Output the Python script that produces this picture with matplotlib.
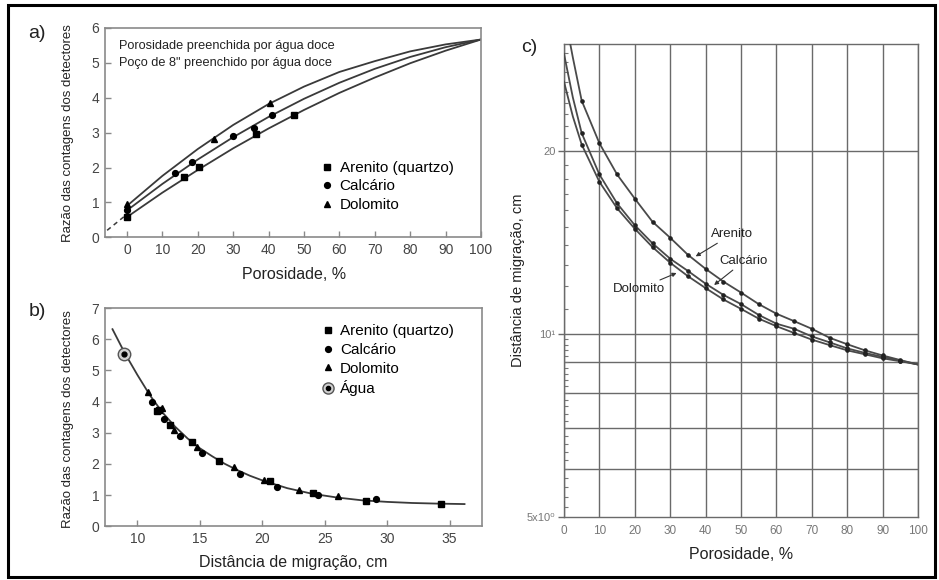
import numpy as np
import matplotlib
matplotlib.use('Agg')
import matplotlib.pyplot as plt
from matplotlib.lines import Line2D
from matplotlib.patches import Rectangle
from matplotlib.legend_handler import HandlerTuple
import matplotlib.ticker as mticker

plt.rcParams['font.family'] = ['Liberation Sans', 'DejaVu Sans']

# ---------------- Panel a data ----------------
a_curve_x = [0, 10, 20, 30, 40, 50, 60, 70, 80, 90, 100]
a_arenito_curve = [0.58, 1.28, 1.93, 2.55, 3.12, 3.65, 4.14, 4.58, 4.99, 5.35, 5.67]
a_calcario_curve = [0.77, 1.53, 2.23, 2.87, 3.45, 3.97, 4.43, 4.83, 5.17, 5.45, 5.67]
a_dolomito_curve = [0.90, 1.76, 2.53, 3.22, 3.82, 4.32, 4.74, 5.05, 5.33, 5.53, 5.67]
a_dash_x = [-5.6, 0.0]
a_dash_y = [0.20, 0.66]
a_arenito_x = [0, 16.0, 20.4, 36.4, 47.3]
a_arenito_y = [0.59, 1.72, 2.01, 2.97, 3.51]
a_calcario_x = [0, 13.6, 18.5, 29.9, 35.8, 41.1]
a_calcario_y = [0.79, 1.85, 2.16, 2.90, 3.14, 3.51]
a_dolomito_x = [0, 24.5, 40.3]
a_dolomito_y = [0.95, 2.83, 3.84]

# ---------------- Panel b data ----------------
b_curve_x = [8.0, 9.0, 10.0, 11.0, 12.0, 13.0, 14.0, 15.0, 16.0, 17.0, 18.0, 19.0,
             20.0, 22.0, 24.0, 26.0, 28.0, 30.0, 32.0, 34.0, 36.2]
b_curve_y = [6.32, 5.54, 4.85, 4.20, 3.65, 3.20, 2.82, 2.50, 2.24, 2.00, 1.80, 1.62,
             1.47, 1.22, 1.04, 0.92, 0.83, 0.78, 0.745, 0.725, 0.71]
b_arenito_x = [11.55, 11.75, 12.6, 14.4, 16.56, 20.6, 24.1, 28.3, 34.35]
b_arenito_y = [3.70, 3.72, 3.24, 2.71, 2.10, 1.45, 1.07, 0.82, 0.70]
b_calcario_x = [11.15, 12.14, 13.4, 15.2, 18.24, 21.15, 24.5, 29.1]
b_calcario_y = [3.97, 3.43, 2.90, 2.34, 1.66, 1.27, 1.00, 0.86]
b_dolomito_x = [10.88, 11.95, 12.96, 14.8, 17.7, 20.14, 22.94, 26.1]
b_dolomito_y = [4.29, 3.80, 3.08, 2.55, 1.91, 1.48, 1.16, 0.97]
b_agua_x = [8.96]
b_agua_y = [5.54]

# ---------------- Panel c data ----------------
c_por = [0, 2.5, 5, 10, 15, 20, 25, 30, 35, 40, 45, 50, 55, 60, 65, 70, 75, 80, 85, 90, 95, 100]
c_arenito = [34.0, 28.5, 24.2, 20.6, 18.3, 16.7, 15.3, 14.4, 13.5, 12.8, 12.2, 11.7,
             11.2, 10.8, 10.5, 10.2, 9.86, 9.62, 9.40, 9.22, 9.06, 8.91]
c_calcario = [28.9, 24.5, 21.4, 18.3, 16.4, 15.1, 14.1, 13.3, 12.7, 12.1, 11.6, 11.2,
              10.75, 10.4, 10.2, 9.91, 9.69, 9.47, 9.31, 9.17, 9.04, 8.91]
c_dolomito = [26.0, 22.8, 20.5, 17.8, 16.1, 14.9, 13.9, 13.1, 12.45, 11.9, 11.4, 11.0,
              10.6, 10.3, 10.04, 9.79, 9.59, 9.40, 9.26, 9.12, 9.02, 8.91]
c_hgrid = [6, 7, 8, 9, 10, 20]
c_yticks = [5, 10, 20]
c_yticklabels = ['5x10\u2070', '10\u00b9', '20']
c_xticks = [0, 10, 20, 30, 40, 50, 60, 70, 80, 90, 100]

LINE = '#3a3a3a'
SPINE = '#8a8a8a'

fig = plt.figure(figsize=(9.39, 5.80), dpi=100)
W, H = 939.0, 580.0

def axes_px(l, t, r, b):
    return fig.add_axes([l / W, 1 - b / H, (r - l) / W, (b - t) / H])

# outer frame
fig.patches.append(Rectangle((8 / W, 3 / H), (935 - 8) / W, (575 - 3) / H,
                             transform=fig.transFigure, fill=False,
                             edgecolor='black', linewidth=2.2))

def style_ab(ax):
    for s in ax.spines.values():
        s.set_color(SPINE)
        s.set_linewidth(1.2)
    ax.tick_params(direction='in', length=4, width=1.0, color=SPINE,
                   labelsize=10, labelcolor='#444444', pad=4)

# ---------------- Panel a ----------------
axa = axes_px(105, 28, 481, 237.3)
axa.plot(a_curve_x, a_arenito_curve, color=LINE, lw=1.3)
axa.plot(a_curve_x, a_calcario_curve, color=LINE, lw=1.3)
axa.plot(a_curve_x, a_dolomito_curve, color=LINE, lw=1.3)
axa.plot(a_dash_x, a_dash_y, color=LINE, lw=1.1, ls=(0, (3, 2.5)))
axa.plot(a_arenito_x, a_arenito_y, 's', color='black', ms=5, zorder=3)
axa.plot(a_calcario_x, a_calcario_y, 'o', color='black', ms=4.2, zorder=3)
axa.plot(a_dolomito_x, a_dolomito_y, '^', color='black', ms=5, zorder=3)
axa.set_xlim(-6.2, 100)
axa.set_ylim(0, 6)
axa.set_xticks(range(0, 101, 10))
axa.set_yticks(range(0, 7))
style_ab(axa)
axa.set_xlabel('Porosidade, %', fontsize=11.5, color='#222222')
axa.xaxis.set_label_coords(0.504, -0.14)
axa.set_ylabel('Razão das contagens dos detectores', fontsize=9.5, color='#222222')
axa.yaxis.set_label_coords(-0.082, 0.5)
axa.text(0.037, 0.914, 'Porosidade preenchida por água doce', transform=axa.transAxes,
         fontsize=9.2, va='center', ha='left', color='#222222')
axa.text(0.037, 0.833, 'Poço de 8" preenchido por água doce', transform=axa.transAxes,
         fontsize=9.2, va='center', ha='left', color='#222222')
ha = [Line2D([], [], ls='none', marker='s', color='black', ms=5),
      Line2D([], [], ls='none', marker='o', color='black', ms=4.2),
      Line2D([], [], ls='none', marker='^', color='black', ms=5)]
axa.legend(ha, ['Arenito (quartzo)', 'Calcário', 'Dolomito'], loc='upper left',
           bbox_to_anchor=(0.575, 0.365), frameon=False, fontsize=11,
           handlelength=0.8, handletextpad=0.4, labelspacing=0.3, borderpad=0,
           borderaxespad=0)

# ---------------- Panel b ----------------
axb = axes_px(105, 308, 482, 526.2)
axb.plot(b_curve_x, b_curve_y, color=LINE, lw=1.3)
axb.plot(b_arenito_x, b_arenito_y, 's', color='black', ms=5, zorder=3)
axb.plot(b_calcario_x, b_calcario_y, 'o', color='black', ms=4.2, zorder=3)
axb.plot(b_dolomito_x, b_dolomito_y, '^', color='black', ms=5, zorder=3)
axb.plot(b_agua_x, b_agua_y, 'o', mfc='#d0d0d0', mec='#555555', mew=1.0, ms=9, zorder=3)
axb.plot(b_agua_x, b_agua_y, 'o', color='black', ms=3.5, zorder=4)
axb.set_xlim(7.4, 37.6)
axb.set_ylim(0, 7)
axb.set_xticks([10, 15, 20, 25, 30, 35])
axb.set_yticks(range(0, 8))
style_ab(axb)
axb.set_xlabel('Distância de migração, cm', fontsize=11.5, color='#222222')
axb.xaxis.set_label_coords(0.5, -0.13)
axb.set_ylabel('Razão das contagens dos detectores', fontsize=9.5, color='#222222')
axb.yaxis.set_label_coords(-0.082, 0.49)
agua_ring = Line2D([], [], ls='none', marker='o', mfc='#d0d0d0', mec='#555555', ms=8)
agua_dot = Line2D([], [], ls='none', marker='o', color='black', ms=3)
hb = [Line2D([], [], ls='none', marker='s', color='black', ms=5),
      Line2D([], [], ls='none', marker='o', color='black', ms=4.2),
      Line2D([], [], ls='none', marker='^', color='black', ms=5),
      (agua_ring, agua_dot)]
axb.legend(hb, ['Arenito (quartzo)', 'Calcário', 'Dolomito', 'Água'], loc='upper left',
           bbox_to_anchor=(0.575, 0.925), frameon=False, fontsize=11,
           handlelength=0.8, handletextpad=0.4, labelspacing=0.3, borderpad=0,
           borderaxespad=0, handler_map={tuple: HandlerTuple(ndivide=1, pad=0)})

# ---------------- Panel c ----------------
axc = axes_px(564, 44, 918, 517)
axc.set_yscale('log')
axc.set_xlim(0, 100)
axc.set_ylim(5, 30)
for v in c_hgrid:
    axc.axhline(v, color='#6a6a6a', lw=1.0, zorder=1)
axc.set_xticks(c_xticks)
axc.grid(axis='x', color='#6a6a6a', lw=1.0, zorder=1)
axc.set_yticks(c_yticks)
axc.set_yticklabels(c_yticklabels)
minor_vals = [v / 10 for v in range(52, 100, 2)] + list(range(11, 20)) + list(range(21, 30))
axc.yaxis.set_minor_locator(mticker.FixedLocator(minor_vals))
axc.yaxis.set_minor_formatter(mticker.NullFormatter())
axc.tick_params(axis='y', which='minor', direction='in', length=3, width=0.8, color='#777777')
axc.tick_params(axis='y', which='major', direction='out', length=4, width=1.0, color='#6a6a6a',
                labelsize=8, labelcolor='#777777', pad=2)
axc.tick_params(axis='x', which='major', length=0, labelsize=8.5, labelcolor='#777777', pad=6)
for s in axc.spines.values():
    s.set_color('#6a6a6a')
    s.set_linewidth(1.0)

por = np.array(c_por)
mk = (por % 5 == 0) & (por > 0) & (por < 100)
for series in (c_arenito, c_calcario, c_dolomito):
    arr = np.array(series)
    axc.plot(por, arr, color='#4a4a4a', lw=1.3, zorder=3)
    axc.plot(por[mk], arr[mk], 'o', color='#222222', ms=2.3, zorder=4)

arrow = dict(arrowstyle='-|>', color='#333333', lw=0.8, mutation_scale=6, shrinkA=0, shrinkB=0)
axc.annotate('Arenito', xy=(37.2, 13.42), xytext=(47.4, 14.58), fontsize=9.5, ha='center',
             va='center', arrowprops=arrow, color='#222222', zorder=5)
axc.annotate('Calcário', xy=(42.4, 12.04), xytext=(50.8, 13.17), fontsize=9.5, ha='center',
             va='center', arrowprops=arrow, color='#222222', zorder=5)
axc.annotate('Dolomito', xy=(31.8, 12.6), xytext=(21.2, 11.87), fontsize=9.5, ha='center',
             va='center', arrowprops=arrow, color='#222222', zorder=5)
axc.set_xlabel('Porosidade, %', fontsize=11.5, color='#222222')
axc.xaxis.set_label_coords(0.5, -0.063)
axc.set_ylabel('Distância de migração, cm', fontsize=10.5, color='#222222')
axc.yaxis.set_label_coords(-0.11, 0.5)

# panel labels
fig.text(37 / W, 1 - 33 / H, 'a)', fontsize=14, ha='center', va='center', color='#222222')
fig.text(37 / W, 1 - 312 / H, 'b)', fontsize=14, ha='center', va='center', color='#222222')
fig.text(529 / W, 1 - 47 / H, 'c)', fontsize=14, ha='center', va='center', color='#222222')

fig.savefig('out.png', dpi=100)
